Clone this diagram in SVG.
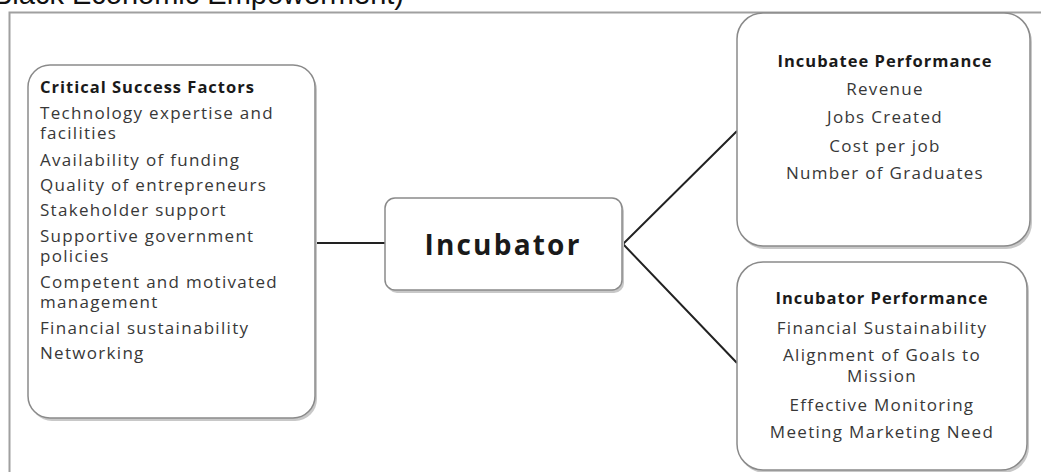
<svg xmlns="http://www.w3.org/2000/svg" width="1041" height="472" viewBox="0 0 1041 472">
<style>
.box{fill:#fff;stroke:#8a8a8a;stroke-width:1.5}
.sh{fill:#c8c8c8}
.t{font-family:"Open Sans","Liberation Sans",sans-serif;font-size:17px;letter-spacing:1.3px;fill:#383838}
.b{font-family:"Open Sans","Liberation Sans",sans-serif;font-size:16.5px;letter-spacing:1px;font-weight:bold;fill:#1a1a1a}
.c{text-anchor:middle}
.ln{stroke:#222;stroke-width:2;fill:none}
</style>
<rect width="1041" height="472" fill="#fff"/>
<text x="-7" y="3.5" font-family="Liberation Sans, Arial, sans-serif" font-size="29" fill="#111">Black Economic Empowerment)</text>
<path d="M9.5 472 V12.5 H1041" fill="none" stroke="#a0a0a0" stroke-width="2"/>
<g id="connectors">
<line class="ln" x1="315" y1="243" x2="386" y2="243"/>
<polyline class="ln" points="737,131 623,244 737,363"/>
</g>
<g id="csf">
<rect class="sh" x="30" y="68" width="287" height="353" rx="22"/>
<rect class="box" x="28" y="65" width="287" height="353" rx="22"/>
<text class="b" x="40" y="93">Critical Success Factors</text>
<text class="t" x="40" y="118.5">Technology expertise and</text>
<text class="t" x="40" y="139">facilities</text>
<text class="t" x="40" y="166">Availability of funding</text>
<text class="t" x="40" y="191">Quality of entrepreneurs</text>
<text class="t" x="40" y="216">Stakeholder support</text>
<text class="t" x="40" y="241.5">Supportive government</text>
<text class="t" x="40" y="262">policies</text>
<text class="t" x="40" y="287.5">Competent and motivated</text>
<text class="t" x="40" y="308">management</text>
<text class="t" x="40" y="334">Financial sustainability</text>
<text class="t" x="40" y="359">Networking</text>
</g>
<g id="incubator">
<rect class="sh" x="387" y="201" width="237" height="92" rx="10"/>
<rect class="box" x="385" y="198" width="237" height="92" rx="10"/>
<text x="503" y="255" text-anchor="middle" font-family="Open Sans, Liberation Sans, sans-serif" font-size="28" letter-spacing="2.2" font-weight="bold" fill="#1a1a1a">Incubator</text>
</g>
<g id="incubatee">
<rect class="sh" x="739" y="16" width="293" height="233" rx="26"/>
<rect class="box" x="737" y="13" width="293" height="233" rx="26"/>
<text class="b c" x="885" y="67">Incubatee Performance</text>
<text class="t c" x="885" y="95">Revenue</text>
<text class="t c" x="885" y="123">Jobs Created</text>
<text class="t c" x="885" y="152">Cost per job</text>
<text class="t c" x="885" y="179">Number of Graduates</text>
</g>
<g id="incperf">
<rect class="sh" x="739" y="265" width="290" height="208" rx="26"/>
<rect class="box" x="737" y="262" width="290" height="208" rx="26"/>
<text class="b c" x="882" y="304">Incubator Performance</text>
<text class="t c" x="882" y="334">Financial Sustainability</text>
<text class="t c" x="882" y="360.5">Alignment of Goals to</text>
<text class="t c" x="882" y="382">Mission</text>
<text class="t c" x="882" y="411">Effective Monitoring</text>
<text class="t c" x="882" y="438">Meeting Marketing Need</text>
</g>
</svg>
